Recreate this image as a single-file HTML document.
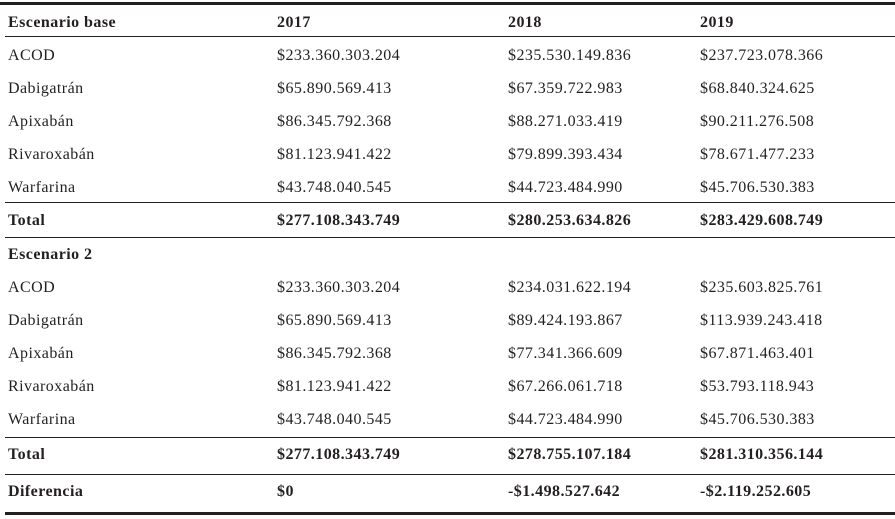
<!DOCTYPE html>
<html><head><meta charset="utf-8"><style>
html,body{margin:0;padding:0;background:#fff;}
body{width:895px;height:519px;position:relative;overflow:hidden;font-family:"Liberation Serif",serif;font-size:16px;letter-spacing:0.45px;color:#231f20;}
.l{position:absolute;left:5px;right:0;height:1px;background:#231f20;}
.t{position:absolute;white-space:nowrap;line-height:18px;}
.b{font-weight:bold;}
</style></head><body>
<div class="l" style="top:2px;height:3px;left:0"></div>
<div class="l" style="top:36px"></div>
<div class="l" style="top:202px"></div>
<div class="l" style="top:237px"></div>
<div class="l" style="top:437px"></div>
<div class="l" style="top:474px"></div>
<div class="l" style="top:512px;height:3px"></div>

<div class="t b" style="top:14px;left:8px">Escenario base</div>
<div class="t b" style="top:14px;left:277px">2017</div>
<div class="t b" style="top:14px;left:508px">2018</div>
<div class="t b" style="top:14px;left:700px">2019</div>

<div class="t" style="top:47px;left:8px">ACOD</div>
<div class="t" style="top:47px;left:277px">$233.360.303.204</div>
<div class="t" style="top:47px;left:508px">$235.530.149.836</div>
<div class="t" style="top:47px;left:700px">$237.723.078.366</div>

<div class="t" style="top:80px;left:8px">Dabigatrán</div>
<div class="t" style="top:80px;left:277px">$65.890.569.413</div>
<div class="t" style="top:80px;left:508px">$67.359.722.983</div>
<div class="t" style="top:80px;left:700px">$68.840.324.625</div>

<div class="t" style="top:113px;left:8px">Apixabán</div>
<div class="t" style="top:113px;left:277px">$86.345.792.368</div>
<div class="t" style="top:113px;left:508px">$88.271.033.419</div>
<div class="t" style="top:113px;left:700px">$90.211.276.508</div>

<div class="t" style="top:146px;left:8px">Rivaroxabán</div>
<div class="t" style="top:146px;left:277px">$81.123.941.422</div>
<div class="t" style="top:146px;left:508px">$79.899.393.434</div>
<div class="t" style="top:146px;left:700px">$78.671.477.233</div>

<div class="t" style="top:179px;left:8px">Warfarina</div>
<div class="t" style="top:179px;left:277px">$43.748.040.545</div>
<div class="t" style="top:179px;left:508px">$44.723.484.990</div>
<div class="t" style="top:179px;left:700px">$45.706.530.383</div>

<div class="t b" style="top:212px;left:8px">Total</div>
<div class="t b" style="top:212px;left:277px">$277.108.343.749</div>
<div class="t b" style="top:212px;left:508px">$280.253.634.826</div>
<div class="t b" style="top:212px;left:700px">$283.429.608.749</div>

<div class="t b" style="top:246px;left:8px">Escenario 2</div>

<div class="t" style="top:279px;left:8px">ACOD</div>
<div class="t" style="top:279px;left:277px">$233.360.303.204</div>
<div class="t" style="top:279px;left:508px">$234.031.622.194</div>
<div class="t" style="top:279px;left:700px">$235.603.825.761</div>

<div class="t" style="top:312px;left:8px">Dabigatrán</div>
<div class="t" style="top:312px;left:277px">$65.890.569.413</div>
<div class="t" style="top:312px;left:508px">$89.424.193.867</div>
<div class="t" style="top:312px;left:700px">$113.939.243.418</div>

<div class="t" style="top:345px;left:8px">Apixabán</div>
<div class="t" style="top:345px;left:277px">$86.345.792.368</div>
<div class="t" style="top:345px;left:508px">$77.341.366.609</div>
<div class="t" style="top:345px;left:700px">$67.871.463.401</div>

<div class="t" style="top:378px;left:8px">Rivaroxabán</div>
<div class="t" style="top:378px;left:277px">$81.123.941.422</div>
<div class="t" style="top:378px;left:508px">$67.266.061.718</div>
<div class="t" style="top:378px;left:700px">$53.793.118.943</div>

<div class="t" style="top:411px;left:8px">Warfarina</div>
<div class="t" style="top:411px;left:277px">$43.748.040.545</div>
<div class="t" style="top:411px;left:508px">$44.723.484.990</div>
<div class="t" style="top:411px;left:700px">$45.706.530.383</div>

<div class="t b" style="top:446px;left:8px">Total</div>
<div class="t b" style="top:446px;left:277px">$277.108.343.749</div>
<div class="t b" style="top:446px;left:508px">$278.755.107.184</div>
<div class="t b" style="top:446px;left:700px">$281.310.356.144</div>

<div class="t b" style="top:483px;left:8px">Diferencia</div>
<div class="t b" style="top:483px;left:277px">$0</div>
<div class="t b" style="top:483px;left:508px">-$1.498.527.642</div>
<div class="t b" style="top:483px;left:700px">-$2.119.252.605</div>
</body></html>
